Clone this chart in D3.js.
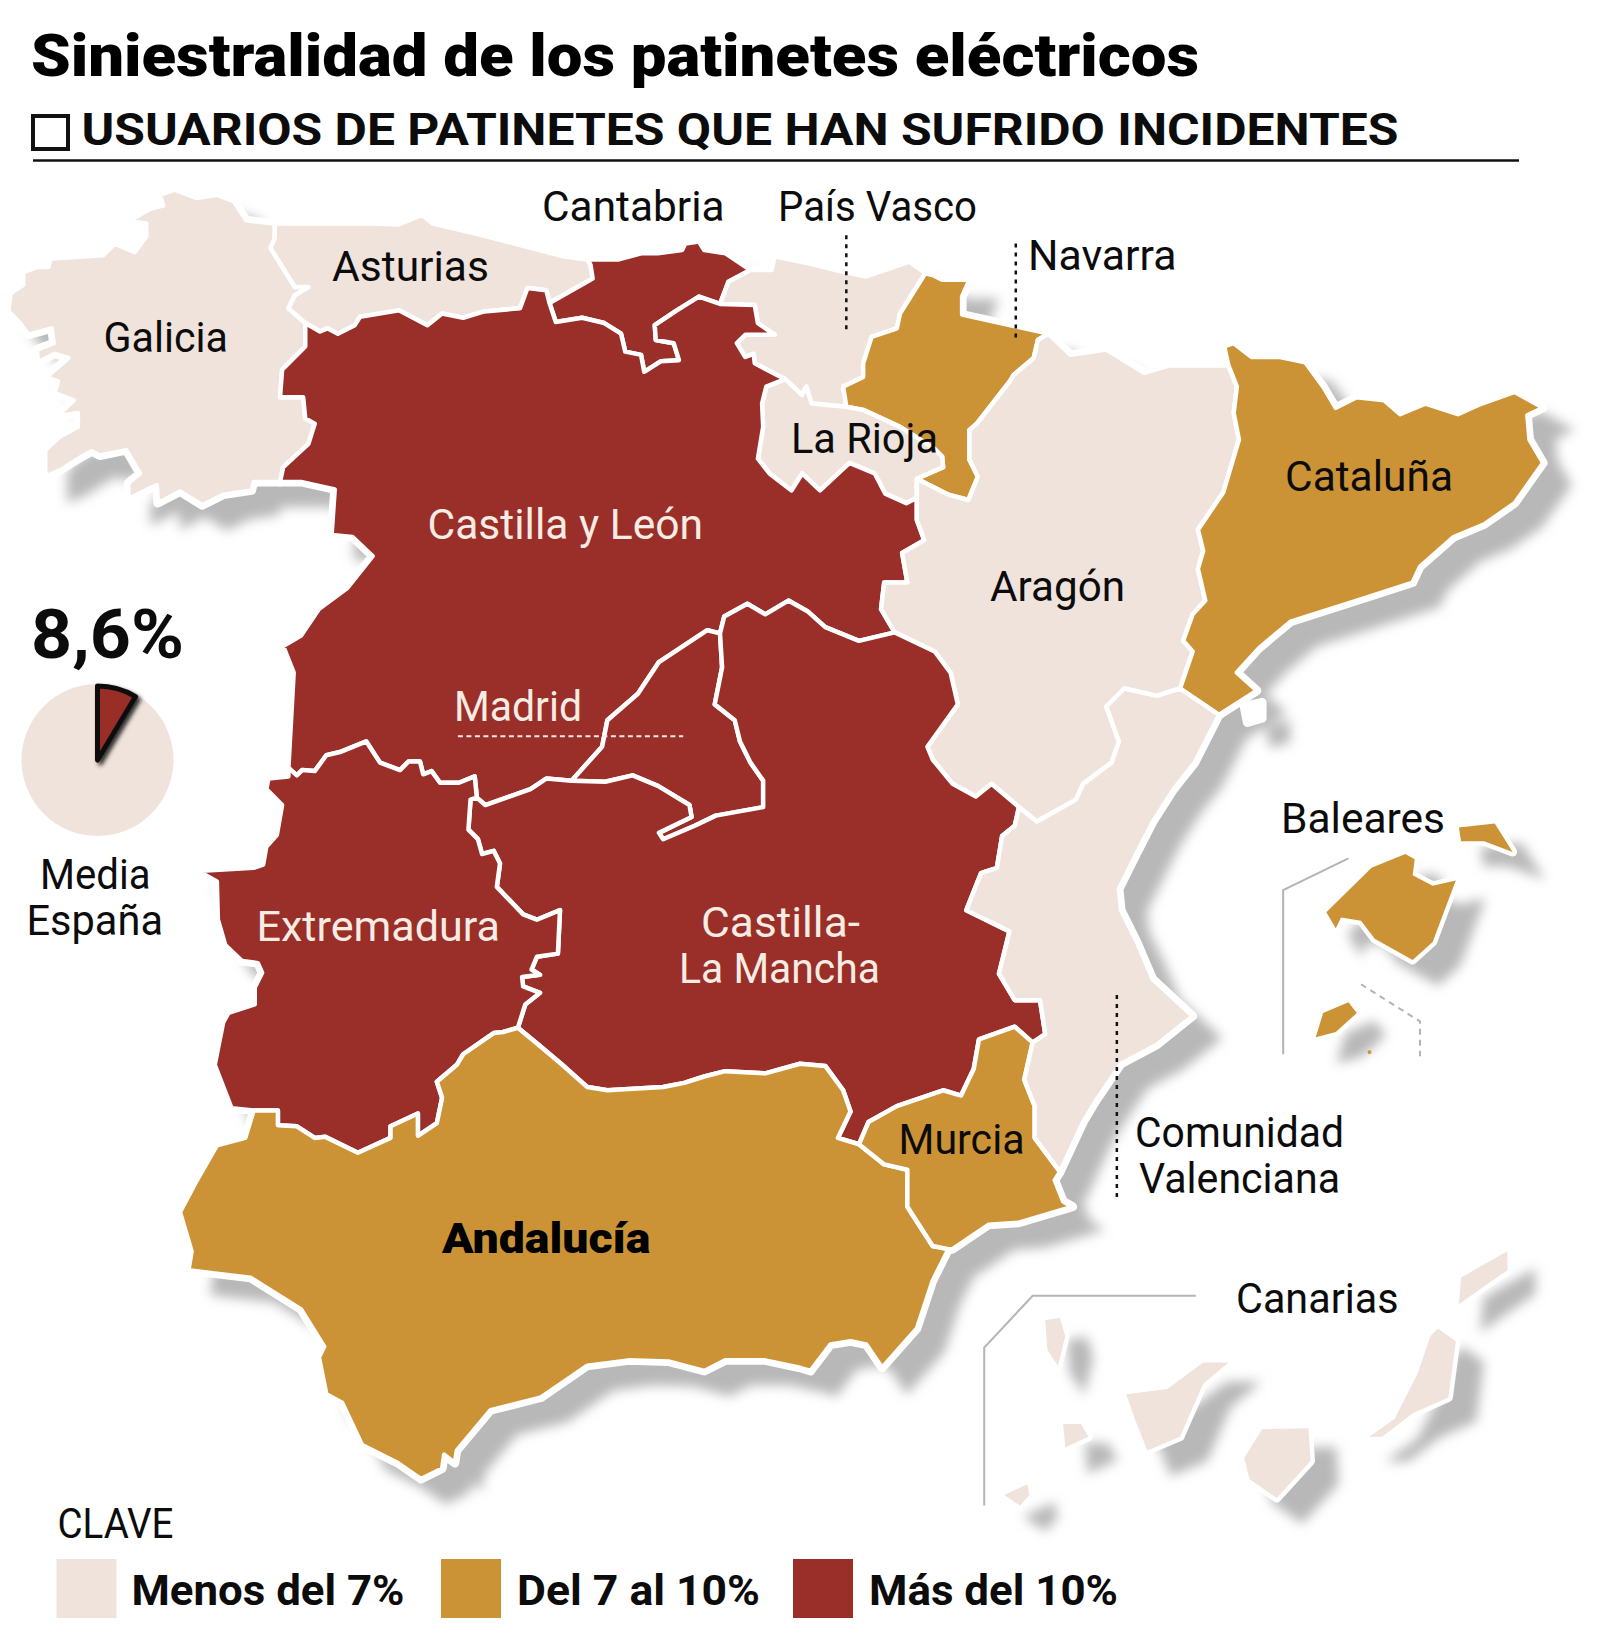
<!DOCTYPE html>
<html>
<head>
<meta charset="utf-8">
<script src="https://cdn.jsdelivr.net/npm/d3@7"></script>
<style>
  html, body { margin: 0; background: #fff; }
  text { font-family: Roboto, sans-serif; fill: #0c0c0c; }
</style>
</head>
<body>
<svg id="chart" width="1600" height="1651"></svg>
<script>
// classes: 0 menos del 7%, 1 del 7 al 10%, 2 mas del 10%
const classLabels = ['Menos del 7%', 'Del 7 al 10%', 'Más del 10%'];
const classColors = ['#f0e3db', '#cc9336', '#992f28'];
const regionNames = ['Galicia', 'Asturias', 'Cantabria', 'País Vasco', 'Navarra', 'La Rioja', 'Castilla y León',
  'Aragón', 'Cataluña', 'Madrid', 'Castilla-La Mancha', 'Extremadura', 'Andalucía', 'Murcia', 'C. Valenciana',
  'Mallorca', 'Menorca', 'Ibiza', 'Formentera', 'Lanzarote', 'Fuerteventura', 'Gran Canaria', 'Tenerife', 'La Palma', 'La Gomera', 'El Hierro'];
const regionClass = [0, 0, 2, 0, 1, 0, 2, 0, 1, 2, 2, 2, 1, 1, 0, 1, 1, 1, 1, 0, 0, 0, 0, 0, 0, 0];
const islandFrom = 15; // first island in regionNames
const nationalAverage = [8.6, 91.4];

// borders, in map units. shared ones are kept once
const galiciaCoast = [[261,211],[234,208],[222,190],[206,184],[187,187],[166,179],[152,184],[155,194],[143,197],[122,209],[139,211],[139,223],[128,238],[109,230],[98,241],[48,244],[46,252],[36,252],[22,257],[22,269],[10,277],[8,294],[19,305],[27,316],[49,310],[51,324],[35,330],[36,342],[52,334],[65,338],[44,356],[55,360],[52,371],[70,378],[54,393],[74,390],[74,403],[57,412],[43,425],[43,450],[57,444],[78,431],[87,426],[95,430],[120,425],[133,447],[122,456],[122,471],[149,458],[150,475],[171,464],[192,477],[212,467],[239,463],[241,455],[266,455]];
const galAst = [[261,211],[261,225],[257,234],[280,271],[293,271],[280,279],[274,291],[290,305]];
const galCyl = [[290,305],[290,327],[268,349],[266,375],[288,375],[290,395],[299,400],[293,419],[269,441],[266,455]];
const astCoast = [[261,211],[355,211],[378,212],[401,203],[411,211],[450,220],[489,230],[535,242],[558,245]];
const astCyl = [[290,305],[304,313],[311,310],[321,315],[337,307],[342,299],[379,293],[406,307],[420,296],[440,300],[460,294],[494,291],[501,272],[519,274],[522,286]];
const astCan = [[522,286],[563,263],[561,250],[558,245]];
const canCoast = [[558,245],[587,245],[610,239],[625,239],[648,236],[651,230],[664,228],[669,236],[689,239],[713,255]];
const canCyl = [[522,286],[528,304],[553,300],[574,305],[590,315],[594,332],[609,335],[612,351],[628,341],[645,340],[640,324],[623,321],[622,307],[643,293],[664,280],[684,287]];
const canBas = [[684,287],[692,266],[713,255]];
const basCoast = [[713,255],[733,255],[736,242],[770,249],[798,256],[823,261],[864,247],[879,258]];
const basCyl = [[684,287],[717,288],[720,305],[736,316],[708,316],[700,324],[708,337],[716,334],[717,343],[746,358]];
const basRio = [[746,358],[762,373],[766,365],[771,381],[804,384]];
const basNav = [[879,258],[855,296],[852,310],[828,318],[820,343],[820,356],[801,365],[804,384]];
const navCoast = [[879,258],[887,260],[895,264],[921,264],[914,280],[914,297],[996,315]];
const navRio = [[804,384],[820,387],[855,403],[887,423],[895,431],[896,441],[871,452]];
const navAra = [[871,452],[901,467],[920,472],[929,450],[921,434],[921,406],[928,400],[960,359],[963,354],[982,338],[986,321],[996,315]];
const rioCyl = [[746,358],[728,365],[724,381],[725,403],[720,433],[731,447],[752,463],[762,447],[779,463],[807,437],[831,447],[841,466],[861,475],[871,470]];
const rioAra = [[871,452],[871,470]];
const cylAra = [[871,470],[871,491],[878,510],[857,522],[862,550],[840,550],[837,575],[850,597]];
const cylClmNorth = [[850,597],[816,605],[784,592],[767,577],[749,567],[727,580],[710,570],[688,582],[684,598]];
const cylMad = [[684,598],[672,595],[626,625],[606,655],[577,680],[572,705],[543,737]];
const cylClmWest = [[543,737],[519,735],[504,745],[461,760],[453,753]];
const cylExt = [[453,753],[451,733],[436,739],[418,739],[410,728],[402,731],[399,719],[388,719],[380,727],[361,720],[348,700],[323,710],[310,713],[299,728],[287,727],[282,732],[274,725]];
const cylCoast = [[274,725],[279,635],[269,610],[286,600],[303,575],[330,555],[354,525],[335,507],[315,505],[318,462],[286,455],[266,455]];
const madClm = [[684,598],[686,630],[679,665],[698,680],[703,700],[713,720],[725,737],[725,762],[680,770],[660,784],[630,797],[626,791],[657,772],[655,760],[625,742],[601,732],[575,738],[543,737]];
const extClm = [[453,753],[447,755],[445,788],[454,797],[458,811],[469,808],[475,820],[472,842],[497,868],[510,873],[532,864],[530,905],[510,908],[505,920],[513,925],[496,927],[497,936],[513,942],[499,953],[492,975]];
const extAnd = [[492,975],[478,979],[469,980],[440,1000],[434,1010],[415,1026],[420,1041],[415,1065],[397,1077],[397,1056],[371,1068],[371,1079],[340,1093],[309,1078],[299,1079],[282,1068],[264,1067],[264,1053],[241,1053]];
const extCoast = [[241,1053],[220,1051],[204,1010],[212,970],[217,961],[242,953],[242,937],[249,923],[245,914],[230,912],[214,897],[207,873],[206,837],[188,827],[241,824],[250,821],[253,804],[263,793],[268,760],[253,745],[255,735],[274,733],[274,725]];
const clmAnd = [[492,975],[509,989],[533,1009],[558,1031],[577,1034],[630,1031],[650,1027],[669,1021],[689,1016],[727,1018],[760,1009],[784,1011],[801,1034],[808,1054],[796,1079],[816,1085]];
const clmMur = [[816,1085],[825,1064],[852,1049],[896,1034],[913,1039],[925,1014],[930,986],[964,974],[981,989]];
const clmVal = [[981,989],[993,981],[988,949],[964,949],[949,924],[959,884],[918,864],[932,829],[947,824],[952,794],[964,784],[968,762]];
const clmAra = [[968,762],[942,740],[927,752],[905,740],[886,717],[881,705],[910,665],[903,635],[888,615],[850,597]];
const araVal = [[968,762],[985,778],[1022,755],[1029,740],[1056,720],[1063,700],[1051,667],[1068,650],[1099,657],[1121,650]];
const araCat = [[1121,650],[1133,615],[1124,605],[1133,580],[1145,567],[1138,537],[1143,520],[1138,500],[1162,465],[1177,415],[1172,390],[1175,365],[1167,345]];
const araCoast = [[996,315],[1017,335],[1051,330],[1087,352],[1111,345],[1167,345]];
const catCoast = [[1167,345],[1163,327],[1172,324],[1189,337],[1216,337],[1240,342],[1257,365],[1269,385],[1289,375],[1315,378],[1330,391],[1354,381],[1385,391],[1405,382],[1439,370],[1466,385],[1451,392],[1453,415],[1466,437],[1439,475],[1410,495],[1381,507],[1349,535],[1342,550],[1289,567],[1226,587],[1196,612],[1175,635],[1194,652],[1158,675]];
const catVal = [[1121,650],[1158,675]];
const valCoast = [[1158,675],[1135,720],[1115,745],[1095,779],[1078,814],[1063,844],[1065,864],[1080,894],[1095,929],[1133,964],[1099,991],[1065,1009],[1041,1044],[1029,1064],[1007,1111]];
const murVal = [[981,989],[973,1024],[983,1049],[983,1079],[1007,1111]];
const murAnd = [[816,1085],[840,1104],[862,1109],[862,1144],[886,1181],[901,1184]];
const murCoast = [[1007,1111],[1002,1119],[1010,1139],[1019,1144],[968,1159],[939,1161],[905,1184],[901,1184]];
const andCoast = [[901,1184],[886,1214],[871,1259],[838,1296],[823,1274],[808,1271],[789,1274],[770,1299],[760,1296],[727,1289],[689,1289],[669,1299],[635,1290],[597,1289],[558,1294],[514,1324],[466,1336],[434,1374],[432,1386],[422,1378],[420,1391],[400,1401],[378,1386],[344,1369],[325,1329],[310,1321],[303,1286],[308,1276],[286,1241],[238,1211],[179,1204],[182,1186],[171,1149],[187,1119],[206,1086],[233,1079],[241,1053]];

const mallorca = [[1260,866],[1303,824],[1335,811],[1344,816],[1342,831],[1361,841],[1383,836],[1361,894],[1342,911],[1306,891],[1293,874],[1274,871],[1269,881]];
const menorca = [[1386,786],[1420,781],[1437,809],[1410,799],[1388,799]];
const ibiza = [[1257,961],[1281,951],[1289,961],[1269,979],[1250,984]];
const formentera = [[1299,997],[1302,996],[1303,999],[1300,1000]];
const lanzarote = [[1432,1186],[1432,1204],[1410,1219],[1386,1236],[1388,1211],[1405,1201]];
const fuerteventura = [[1366,1259],[1383,1271],[1376,1324],[1342,1339],[1313,1361],[1301,1361],[1325,1344],[1347,1301],[1359,1266]];
const granCanaria = [[1199,1354],[1243,1353],[1245,1384],[1213,1419],[1187,1401],[1182,1381]];
const tenerife = [[1070,1321],[1109,1316],[1143,1291],[1167,1291],[1143,1311],[1121,1361],[1090,1374],[1078,1344]];
const laPalma = [[993,1251],[1007,1249],[1012,1266],[1005,1294],[995,1279]];
const laGomera = [[1010,1349],[1027,1349],[1034,1361],[1012,1371]];
const elHierro = [[954,1416],[976,1406],[978,1416],[969,1426]];
const ebroDelta = [[1182,667],[1199,663],[1199,678],[1185,682]];

const rev = a => a.slice().reverse();
const regionOutlines = [
  [...galiciaCoast, ...rev(galCyl), ...rev(galAst)],
  [...astCoast, ...rev(astCan), ...rev(astCyl), ...rev(galAst)],
  [...astCan, ...canCoast, ...rev(canBas), ...rev(canCyl)],
  [...basCoast, ...basNav, ...rev(basRio), ...rev(basCyl), ...canBas],
  [...navCoast, ...rev(navAra), ...rev(navRio), ...rev(basNav)],
  [...basRio, ...navRio, ...rioAra, ...rev(rioCyl)],
  [...astCyl, ...canCyl, ...basCyl, ...rioCyl, ...cylAra, ...cylClmNorth, ...cylMad, ...cylClmWest, ...cylExt, ...cylCoast, ...rev(galCyl)],
  [...araCoast, ...rev(araCat), ...rev(araVal), ...clmAra, ...rev(cylAra), ...rev(rioAra), ...navAra],
  [...catCoast, ...rev(catVal), ...araCat],
  [...madClm, ...rev(cylMad)],
  [...rev(cylClmNorth), ...rev(clmAra), ...rev(clmVal), ...rev(clmMur), ...rev(clmAnd), ...rev(extClm), ...rev(cylClmWest), ...rev(madClm)],
  [...extClm, ...extAnd, ...extCoast, ...rev(cylExt)],
  [...clmAnd, ...murAnd, ...andCoast, ...rev(extAnd)],
  [...clmMur, ...murVal, ...murCoast, ...rev(murAnd)],
  [...catVal, ...valCoast, ...rev(murVal), ...clmVal, ...araVal],
  mallorca, menorca, ibiza, formentera, lanzarote, fuerteventura, granCanaria, tenerife, laPalma, laGomera, elHierro
];

const blackLeaders = [
  [[804,222],[804,312]],
  [[965,230],[965,320]],
  [[1061,944],[1061,1135]]
];
const madridLeader = [[435,695],[649,695]];
const frameLines = [
  [[1136,1228],[981,1228],[935,1277],[935,1426]],
  [[1281,815],[1219,845],[1219,1000]]
];
const formenteraFrame = [[1293,934],[1349,969],[1349,1002]];

// label: text, x, baseline, width (px in the page)
const mapLabels = [
  ['Galicia', 103.5, 352, 124.5], ['Asturias', 332, 280.5, 157], ['Cantabria', 542, 221, 182.5],
  ['País Vasco', 778, 221, 199], ['Navarra', 1028, 270, 148.5], ['La Rioja', 791, 452.5, 147],
  ['Cataluña', 1285, 491, 168], ['Aragón', 990, 601, 135], ['Murcia', 898.5, 1153.5, 126],
  ['Baleares', 1281, 833, 164], ['Comunidad', 1135, 1147, 209], ['Valenciana', 1139, 1193, 201],
  ['Canarias', 1236, 1313, 162.5]
];
const mapLabelsLight = [
  ['Castilla y León', 427.5, 539, 275.5], ['Madrid', 454, 721, 128], ['Extremadura', 256.5, 940.5, 243.5],
  ['Castilla-', 701, 936.5, 159], ['La Mancha', 679, 983, 201]
];

const svg = d3.select('#chart');

// picture was read at 0.95 scale, with a small vertical drift between crops
const x = d3.scaleLinear().domain([0, 1520]).range([0, 1600]);
const y = d3.scaleLinear().domain([0, 770, 785, 1568]).range([0, 815.6, 826.5, 1655.9]);
const outline = d3.line().x(d => x(d[0])).y(d => y(d[1]));
const ring = d3.line().x(d => x(d[0])).y(d => y(d[1])).curve(d3.curveLinearClosed);

const defs = svg.append('defs');
defs.append('filter').attr('id', 'blur').attr('x', '-5%').attr('y', '-5%').attr('width', '110%').attr('height', '110%')
  .append('feGaussianBlur').attr('stdDeviation', 6);
defs.append('filter').attr('id', 'pieShadow').attr('x', '-30%').attr('y', '-30%').attr('width', '160%').attr('height', '160%')
  .append('feDropShadow').attr('dx', 3).attr('dy', 3).attr('stdDeviation', 2).attr('flood-color', '#333');

// title block
svg.append('text').attr('x', 31).attr('y', 75.5).attr('font-size', 60).attr('font-weight', 900)
  .style('fill', '#000')
  .attr('textLength', 1168).attr('lengthAdjust', 'spacingAndGlyphs').text('Siniestralidad de los patinetes eléctricos');
svg.append('rect').attr('x', 33).attr('y', 116).attr('width', 35).attr('height', 33)
  .attr('fill', 'none').attr('stroke', '#111').attr('stroke-width', 4);
svg.append('text').attr('x', 81.5).attr('y', 144.5).attr('font-size', 45).attr('font-weight', 700)
  .attr('textLength', 1317).attr('lengthAdjust', 'spacingAndGlyphs').text('USUARIOS DE PATINETES QUE HAN SUFRIDO INCIDENTES');
svg.append('line').attr('x1', 33).attr('x2', 1519).attr('y1', 160.5).attr('y2', 160.5)
  .attr('stroke', '#111').attr('stroke-width', 2.5);

// frames behind the islands
svg.append('g').selectAll('path').data(frameLines).join('path')
  .attr('d', outline).attr('fill', 'none').attr('stroke', '#b4b4b4').attr('stroke-width', 2);
svg.append('path').attr('d', outline(formenteraFrame)).attr('fill', 'none')
  .attr('stroke', '#b4b4b4').attr('stroke-width', 2).attr('stroke-dasharray', '6 5');

// map: shadow, white halo, then regions. formentera is too small to carry either
const shapes = regionOutlines.map((pts, i) => ({ name: regionNames[i], cls: regionClass[i], pts, island: i >= islandFrom }));
const raised = regionOutlines.filter(pts => pts !== formentera).concat([ebroDelta]);
svg.append('g').attr('transform', 'translate(25,22)').attr('filter', 'url(#blur)')
  .selectAll('path').data(raised).join('path')
  .attr('d', ring).attr('fill', '#b8b8b8').attr('stroke', '#b8b8b8').attr('stroke-width', 6);
svg.append('g').selectAll('path').data(raised).join('path')
  .attr('d', ring).attr('fill', '#fff').attr('stroke', '#fff').attr('stroke-width', 9).attr('stroke-linejoin', 'round');
svg.append('g').selectAll('path').data(shapes).join('path')
  .attr('d', d => ring(d.pts))
  .attr('fill', d => classColors[d.cls])
  .attr('stroke', d => d.island ? 'none' : '#fff')
  .attr('stroke-width', 4.5)
  .attr('stroke-linejoin', 'round');

// leaders
svg.append('g').selectAll('path').data(blackLeaders).join('path')
  .attr('d', outline).attr('fill', 'none').attr('stroke', '#111').attr('stroke-width', 2.5).attr('stroke-dasharray', '4 5');
svg.append('path').attr('d', outline(madridLeader)).attr('fill', 'none')
  .attr('stroke', '#f5e9e2').attr('stroke-width', 2).attr('stroke-dasharray', '5 3.5');

// labels
function addLabels(list, color) {
  svg.append('g').selectAll('text').data(list).join('text')
    .attr('x', d => d[1]).attr('y', d => d[2])
    .attr('textLength', d => d[3]).attr('lengthAdjust', 'spacingAndGlyphs')
    .attr('font-size', 43)
    .style('fill', color)
    .text(d => d[0]);
}
addLabels(mapLabels, '#0c0c0c');
addLabels(mapLabelsLight, '#f7ece4');
svg.append('text').attr('x', 442).attr('y', 1252.5).attr('font-size', 42).attr('font-weight', 900)
  .style('fill', '#000')
  .attr('textLength', 208.5).attr('lengthAdjust', 'spacingAndGlyphs').text('Andalucía');

// national average pie
const pieG = svg.append('g').attr('transform', 'translate(97.5,760)');
pieG.append('circle').attr('r', 76).attr('fill', classColors[0]);
const slices = d3.pie().sort(null)(nationalAverage);
pieG.append('path').attr('d', d3.arc().innerRadius(0).outerRadius(74)(slices[0]))
  .attr('fill', classColors[2]).attr('stroke', '#111').attr('stroke-width', 5).attr('stroke-linejoin', 'round')
  .attr('filter', 'url(#pieShadow)');
svg.append('text').attr('x', 31).attr('y', 658).attr('font-size', 68).attr('font-weight', 700)
  .attr('textLength', 153).attr('lengthAdjust', 'spacingAndGlyphs').text('8,6%');
svg.append('text').attr('x', 40).attr('y', 889).attr('font-size', 43)
  .attr('textLength', 110.5).attr('lengthAdjust', 'spacingAndGlyphs').text('Media');
svg.append('text').attr('x', 26.5).attr('y', 935).attr('font-size', 43)
  .attr('textLength', 136.5).attr('lengthAdjust', 'spacingAndGlyphs').text('España');

// key
svg.append('text').attr('x', 57.5).attr('y', 1538).attr('font-size', 43)
  .attr('textLength', 116).attr('lengthAdjust', 'spacingAndGlyphs').text('CLAVE');
const keyX = [56.5, 441, 793];
const keyTextX = [131.5, 517, 869];
const keyTextW = [273, 243, 249];
const keyG = svg.append('g');
keyG.selectAll('rect').data(classColors).join('rect')
  .attr('x', (d, i) => keyX[i]).attr('y', 1559).attr('width', 60).attr('height', 59).attr('fill', d => d);
keyG.selectAll('text').data(classLabels).join('text')
  .attr('x', (d, i) => keyTextX[i]).attr('y', 1604.5)
  .attr('font-size', 42).attr('font-weight', 700)
  .attr('textLength', (d, i) => keyTextW[i]).attr('lengthAdjust', 'spacingAndGlyphs')
  .text(d => d);
</script>
</body>
</html>
